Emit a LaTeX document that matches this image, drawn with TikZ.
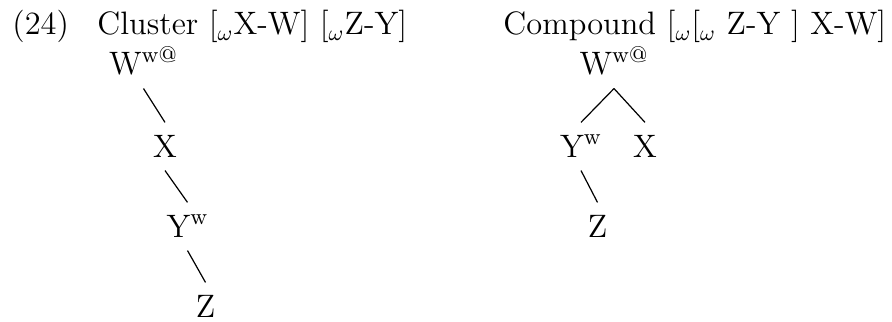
\documentclass[tikz,border=0pt]{standalone}
\begin{document}
\begin{tikzpicture}[x=0.4132pt,y=-0.4132pt,
  font=\fontsize{13.4pt}{16pt}\selectfont,
  lbl/.style={anchor=base west,inner sep=0pt},
  tn/.style={anchor=base,inner xsep=0pt,inner ysep=5pt,text height=9.1pt,text depth=0.4pt},
  br/.style={line width=0.5pt}]
\useasboundingbox (0,0) rectangle (892,322);
\node[lbl] (num) at (12,35) {(24)};
\node[lbl] (t1) at (97,35) {Cluster [$_\omega$X-W] [$_\omega$Z-Y]};
\node[lbl] (t2) at (503,35) {Compound [$_\omega$[$_\omega$ Z-Y ] X-W]};
% tree 1
\node[tn] (w1) at (143.5,75) {W\textsuperscript{w@}};
\node[tn] (x1) at (165,157) {X};
\node[tn] (y1) at (187.5,237) {Y\textsuperscript{w}};
\node[tn] (z1) at (205.5,317) {Z};
\draw[br] (w1.south) -- (x1.north);
\draw[br] (x1.south) -- (y1.north);
\draw[br] (y1.south) -- (z1.north);
% tree 2
\node[tn] (w2) at (614,75) {W\textsuperscript{w@}};
\node[tn] (y2) at (581,157) {Y\textsuperscript{w}};
\node[tn] (x2) at (645,157) {X};
\node[tn] (z2) at (597.5,237) {Z};
\draw[br] (w2.south) -- (y2.north);
\draw[br] (w2.south) -- (x2.north);
\draw[br] (y2.south) -- (z2.north);
\end{tikzpicture}
\end{document}
